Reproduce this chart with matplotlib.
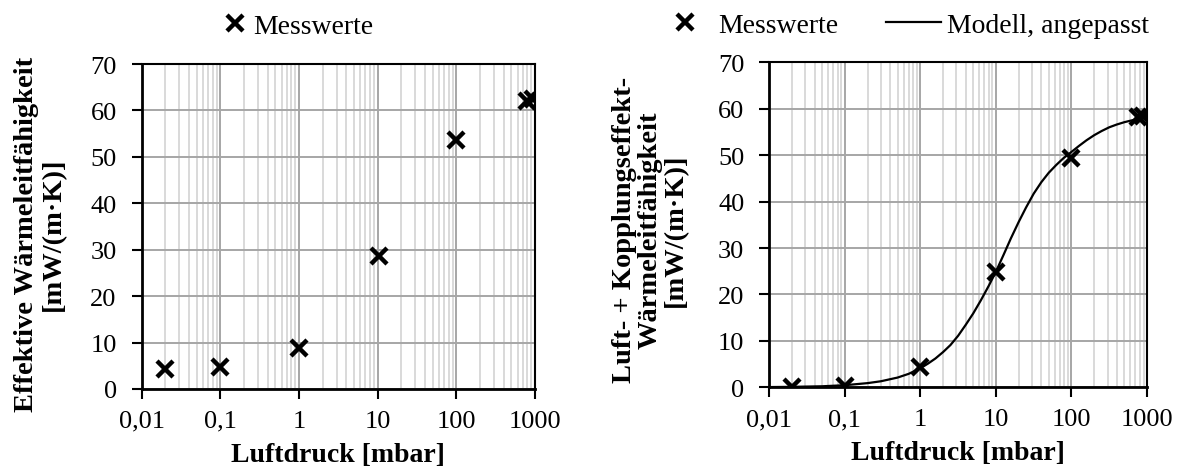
import matplotlib
matplotlib.use("Agg")
import matplotlib.pyplot as plt
from matplotlib.lines import Line2D
from matplotlib.ticker import FixedLocator, LogLocator, NullFormatter

plt.rcParams['font.family'] = ['Liberation Serif', 'DejaVu Serif']

# ---- data ----
x_left = [0.02, 0.1, 1.0, 10.4, 100, 790, 940]
y_left = [4.3, 4.7, 8.9, 28.7, 53.7, 62.0, 62.4]

x_right = [0.02, 0.1, 1.0, 10.0, 100, 760, 890]
y_right = [0.05, 0.3, 4.4, 24.8, 49.3, 58.2, 58.5]

model_p = [0.01, 0.02, 0.05, 0.1, 0.2, 0.3, 0.5, 0.7, 1, 1.26, 1.58, 2, 2.5,
           3.16, 4, 5, 6.3, 8, 10, 12.6, 15.8, 20, 25, 31.6, 40, 50, 63, 79,
           100, 126, 158, 200, 251, 316, 398, 501, 631, 794, 1000]
model_y = [0.05, 0.1, 0.22, 0.45, 0.9, 1.3, 2.1, 2.9, 4.1, 5.1, 6.2, 7.6, 9.1,
           11.1, 13.5, 15.9, 18.7, 21.8, 24.9, 28.5, 32.1, 35.6, 38.7, 41.7,
           44.2, 46.2, 47.9, 49.4, 50.7, 52.0, 53.2, 54.3, 55.2, 56.0, 56.6,
           57.1, 57.5, 57.8, 58.0]

x_ticks = [0.01, 0.1, 1, 10, 100, 1000]
x_ticklabels = ["0,01", "0,1", "1", "10", "100", "1000"]
y_ticks = [0, 10, 20, 30, 40, 50, 60, 70]

W, H = 1183, 477
fig = plt.figure(figsize=(W / 100, H / 100), dpi=100)

axL = fig.add_axes([141.7 / W, 1 - 390 / H, (535 - 141.7) / W, (390 - 65) / H])
axR = fig.add_axes([769.3 / W, 1 - 388.3 / H, (1147 - 769.3) / W, (388.3 - 63.3) / H])

mk = dict(marker='x', linestyle='none', color='black', markersize=11.5,
          markeredgewidth=3.2, zorder=5)

for ax in (axL, axR):
    ax.set_xscale('log')
    ax.set_xlim(0.01, 1000)
    ax.set_ylim(0, 70)
    ax.xaxis.set_major_locator(FixedLocator(x_ticks))
    ax.set_xticklabels(x_ticklabels)
    ax.xaxis.set_minor_locator(LogLocator(base=10, subs=[2, 3, 4, 5, 6, 7, 8, 9]))
    ax.xaxis.set_minor_formatter(NullFormatter())
    ax.set_yticks(y_ticks)
    ax.grid(True, which='minor', axis='x', color='#d9d9d9', linewidth=1.4)
    ax.grid(True, which='major', axis='x', color='#a6a6a6', linewidth=1.4)
    ax.grid(True, which='major', axis='y', color='#a6a6a6', linewidth=1.4)
    ax.set_axisbelow(True)
    ax.tick_params(which='major', direction='out', length=7, width=1.5, labelsize=19)
    ax.tick_params(axis='x', pad=8)
    ax.tick_params(axis='y', pad=11)
    ax.tick_params(which='minor', length=0)
    for s in ax.spines.values():
        s.set_color('black')
        s.set_linewidth(1.5)
    ax.spines['left'].set_linewidth(2)
    ax.spines['bottom'].set_linewidth(2)
    ax.set_xlabel("Luftdruck [mbar]", fontsize=20, fontweight='bold', labelpad=7)

axL.plot(x_left, y_left, **mk)
axR.plot(model_p, model_y, color='black', linewidth=1.6, zorder=4)
axR.plot(x_right, y_right, **mk)

fig.text(40 / W, 1 - 234 / H, "Effektive Wärmeleitfähigkeit\n[mW/(m·K)]",
         rotation=90, ha='center', va='center', multialignment='center',
         fontsize=20.5, fontweight='bold', linespacing=1.1)
fig.text(650 / W, 1 - 230 / H, "Luft- + Kopplungseffekt-\nWärmeleitfähigkeit\n[mW/(m·K)]",
         rotation=90, ha='center', va='center', multialignment='center',
         fontsize=20.5, fontweight='bold', linespacing=1.05)

h_mk = Line2D([], [], **{k: v for k, v in mk.items() if k != 'zorder'})
h_ln = Line2D([], [], color='black', linewidth=1.6)

fig.legend([h_mk], ["Messwerte"], loc='center', bbox_to_anchor=(297 / W, 1 - 27 / H),
           frameon=False, fontsize=20, handlelength=1.0, handletextpad=0.15,
           borderpad=0, borderaxespad=0)
fig.legend([h_mk, h_ln], ["Messwerte", "Modell, angepasst"], loc='center',
           bbox_to_anchor=(903 / W, 1 - 26 / H), ncol=2,
           frameon=False, fontsize=20, handlelength=2.0, handletextpad=0.2,
           columnspacing=1.7, borderpad=0, borderaxespad=0)

fig.savefig("out.png", dpi=100)
